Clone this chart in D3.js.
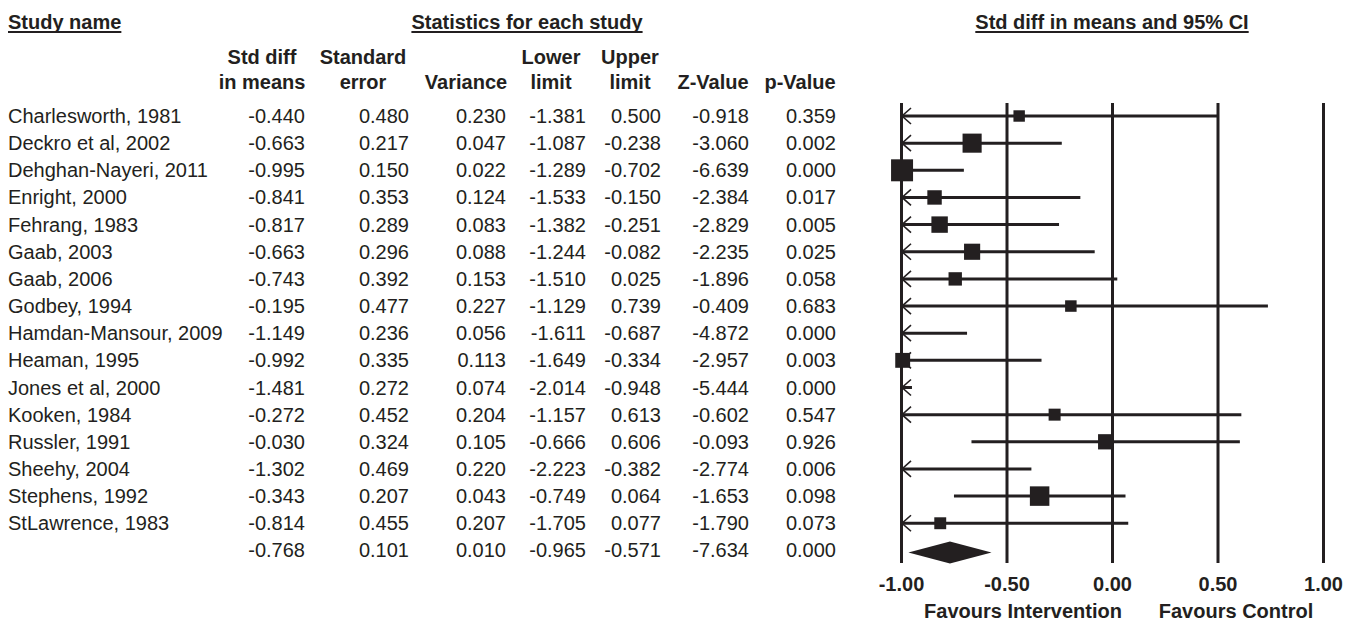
<!DOCTYPE html>
<html>
<head>
<meta charset="utf-8">
<script src="https://cdn.jsdelivr.net/npm/d3@7"></script>
<style>
  body { margin: 0; background: #fff; }
  svg { display: block; font-family: "Liberation Sans", Arial, sans-serif; }
</style>
</head>
<body>
<div id="forest"></div>
<script>
// study rows
const studies = ["Charlesworth, 1981", "Deckro et al, 2002", "Dehghan-Nayeri, 2011", "Enright, 2000",
  "Fehrang, 1983", "Gaab, 2003", "Gaab, 2006", "Godbey, 1994", "Hamdan-Mansour, 2009", "Heaman, 1995",
  "Jones et al, 2000", "Kooken, 1984", "Russler, 1991", "Sheehy, 2004", "Stephens, 1992", "StLawrence, 1983"];
const stdDiff = [-0.440, -0.663, -0.995, -0.841, -0.817, -0.663, -0.743, -0.195, -1.149, -0.992, -1.481, -0.272, -0.030, -1.302, -0.343, -0.814];
const stdErr = [0.480, 0.217, 0.150, 0.353, 0.289, 0.296, 0.392, 0.477, 0.236, 0.335, 0.272, 0.452, 0.324, 0.469, 0.207, 0.455];
const variance = [0.230, 0.047, 0.022, 0.124, 0.083, 0.088, 0.153, 0.227, 0.056, 0.113, 0.074, 0.204, 0.105, 0.220, 0.043, 0.207];
const lower = [-1.381, -1.087, -1.289, -1.533, -1.382, -1.244, -1.510, -1.129, -1.611, -1.649, -2.014, -1.157, -0.666, -2.223, -0.749, -1.705];
const upper = [0.500, -0.238, -0.702, -0.150, -0.251, -0.082, 0.025, 0.739, -0.687, -0.334, -0.948, 0.613, 0.606, -0.382, 0.064, 0.077];
const zValue = [-0.918, -3.060, -6.639, -2.384, -2.829, -2.235, -1.896, -0.409, -4.872, -2.957, -5.444, -0.602, -0.093, -2.774, -1.653, -1.790];
const pValue = [0.359, 0.002, 0.000, 0.017, 0.005, 0.025, 0.058, 0.683, 0.000, 0.003, 0.000, 0.547, 0.926, 0.006, 0.098, 0.073];

// pooled row
const summary = {stdDiff: -0.768, stdErr: 0.101, variance: 0.010, lower: -0.965, upper: -0.571, zValue: -7.634, pValue: 0.000};

// between-study variance used for the box weights
const tau2 = 0.055;

const axisTicks = [-1, -0.5, 0, 0.5, 1];
const columns = [
  {key: "stdDiff", head: ["Std diff", "in means"], right: 305, center: 262},
  {key: "stdErr", head: ["Standard", "error"], right: 409, center: 363},
  {key: "variance", head: ["", "Variance"], right: 506, center: 466},
  {key: "lower", head: ["Lower", "limit"], right: 586, center: 551},
  {key: "upper", head: ["Upper", "limit"], right: 661, center: 630},
  {key: "zValue", head: ["", "Z-Value"], right: 749, center: 713},
  {key: "pValue", head: ["", "p-Value"], right: 836, center: 800}
];

const ink = "#231f20";
const width = 1354, height = 624;

const svg = d3.select("#forest").append("svg")
  .attr("width", width)
  .attr("height", height);

const rows = studies.map((s, i) => ({
  name: s, stdDiff: stdDiff[i], stdErr: stdErr[i], variance: variance[i],
  lower: lower[i], upper: upper[i], zValue: zValue[i], pValue: pValue[i]
}));
const allRows = rows.concat([Object.assign({name: ""}, summary)]);

const y = d3.scalePoint()
  .domain(d3.range(allRows.length))
  .range([116, 116 + 27.15 * (allRows.length - 1)]);

const x = d3.scaleLinear().domain([-1, 1]).range([901, 1323]);

const box = d3.scaleSqrt().domain([0, 1]).range([0, 6.1]);

// headers
function underlined(txt, xx, yy, anchor) {
  const t = svg.append("text")
    .attr("x", xx).attr("y", yy)
    .attr("text-anchor", anchor)
    .attr("font-size", 20).attr("font-weight", "bold")
    .attr("fill", ink)
    .text(txt);
  const w = t.node().getComputedTextLength();
  const x0 = anchor === "middle" ? xx - w / 2 : xx;
  svg.append("line")
    .attr("x1", x0).attr("x2", x0 + w)
    .attr("y1", yy + 3).attr("y2", yy + 3)
    .attr("stroke", ink).attr("stroke-width", 2);
}
underlined("Study name", 8, 29, "start");
underlined("Statistics for each study", 527, 29, "middle");
underlined("Std diff in means and 95% CI", x(0), 29, "middle");

columns.forEach(c => {
  c.head.forEach((h, k) => {
    if (!h) return;
    svg.append("text")
      .attr("x", c.center).attr("y", 64 + k * 25)
      .attr("text-anchor", "middle")
      .attr("font-size", 20).attr("font-weight", "bold")
      .attr("fill", ink)
      .text(h);
  });
});

// table body
const rowG = svg.selectAll(".row")
  .data(allRows)
  .enter().append("g")
  .attr("class", "row")
  .attr("transform", (d, i) => `translate(0,${y(i)})`);

rowG.append("text")
  .attr("x", 8).attr("dy", "0.35em")
  .attr("font-size", 20).attr("fill", ink)
  .text(d => d.name);

columns.forEach(c => {
  rowG.append("text")
    .attr("x", c.right).attr("dy", "0.35em")
    .attr("text-anchor", "end")
    .attr("font-size", 20).attr("fill", ink)
    .text(d => d[c.key].toFixed(3));
});

// reference lines + tick labels
const axisY = 563;
const axis = d3.axisBottom(x)
  .tickValues(axisTicks)
  .tickSize(-(axisY - 103))
  .tickPadding(14)
  .tickFormat(d => d.toFixed(2));

const ax = svg.append("g")
  .attr("transform", `translate(0,${axisY})`)
  .call(axis);
ax.select(".domain").remove();
ax.selectAll(".tick line").attr("stroke", ink).attr("stroke-width", 3);
ax.selectAll(".tick text")
  .attr("fill", ink)
  .attr("font-size", 20).attr("font-weight", "bold")
  .attr("font-family", "Liberation Sans, Arial, sans-serif");

// CIs
const xmin = x.domain()[0], xmax = x.domain()[1];
const ci = svg.append("g");
rows.forEach((d, i) => {
  const lo = Math.max(d.lower, xmin), hi = Math.min(d.upper, xmax);
  const yy = y(i);
  ci.append("line")
    .attr("x1", x(lo)).attr("x2", x(hi))
    .attr("y1", yy).attr("y2", yy)
    .attr("stroke", ink).attr("stroke-width", 3);
  if (d.lower < xmin) {
    ci.append("path")
      .attr("d", `M${x(xmin) + 10},${yy - 8}L${x(xmin) + 1},${yy}L${x(xmin) + 10},${yy + 8}`)
      .attr("fill", "none").attr("stroke", ink).attr("stroke-width", 1.6);
  }
  if (d.stdDiff >= xmin && d.stdDiff <= xmax) {
    const s = box(1 / (d.variance + tau2));
    ci.append("rect")
      .attr("x", x(d.stdDiff) - s / 2).attr("y", yy - s / 2)
      .attr("width", s).attr("height", s)
      .attr("fill", ink);
  }
});

// pooled diamond
const yd = y(rows.length) + 2;
svg.append("path")
  .attr("d", `M${x(summary.lower)},${yd}L${x(summary.stdDiff)},${yd - 11}L${x(summary.upper)},${yd}L${x(summary.stdDiff)},${yd + 11}Z`)
  .attr("fill", ink);

// favours labels
svg.append("text")
  .attr("x", 1023).attr("y", 618)
  .attr("text-anchor", "middle")
  .attr("font-size", 20).attr("font-weight", "bold").attr("fill", ink)
  .text("Favours Intervention");
svg.append("text")
  .attr("x", 1236).attr("y", 618)
  .attr("text-anchor", "middle")
  .attr("font-size", 20).attr("font-weight", "bold").attr("fill", ink)
  .text("Favours Control");
</script>
</body>
</html>
